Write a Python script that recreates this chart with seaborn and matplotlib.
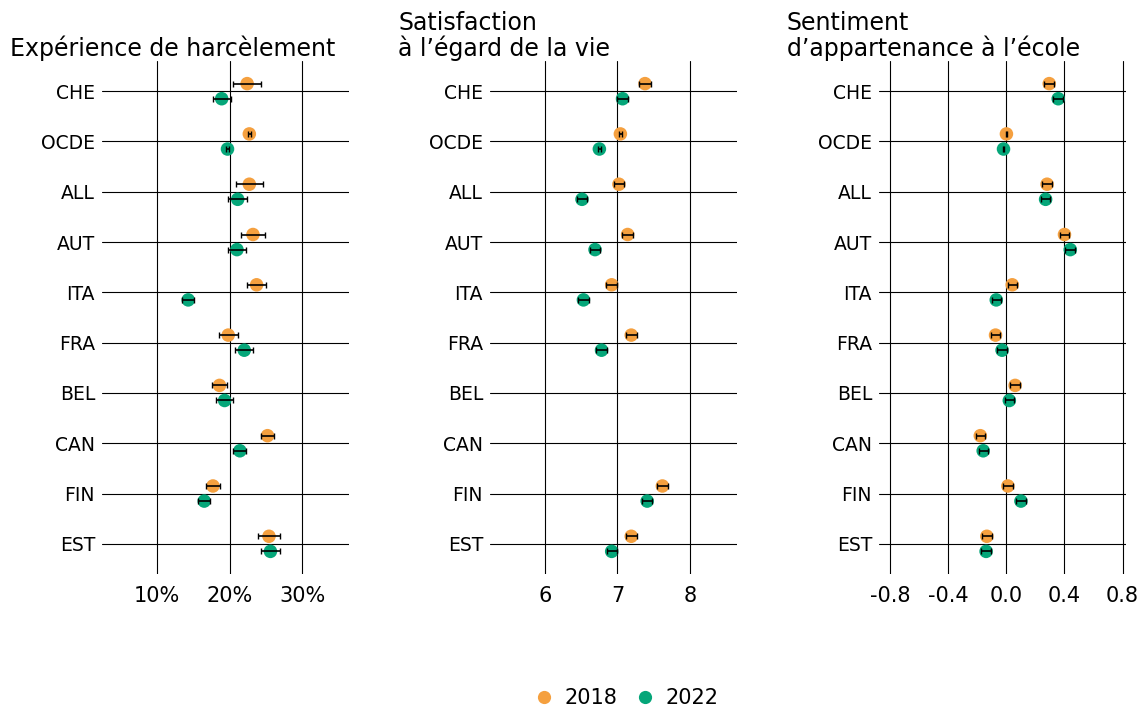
import numpy as np
import pandas as pd
import matplotlib
matplotlib.use("Agg")
import matplotlib.pyplot as plt
import seaborn as sns
from matplotlib.lines import Line2D

countries = ["CHE", "OCDE", "ALL", "AUT", "ITA", "FRA", "BEL", "CAN", "FIN", "EST"]
years = ["2018", "2022"]
titles = ["Expérience de harcèlement",
          "Satisfaction\nà l’égard de la vie",
          "Sentiment\nd’appartenance à l’école"]

# Panel 1: bullying (%)
bully_2018 = [22.4, 22.7, 22.7, 23.2, 23.7, 19.8, 18.6, 25.2, 17.7, 25.4]
bully_2018_err = [1.95, 0.2, 1.9, 1.6, 1.35, 1.3, 1.0, 0.9, 0.95, 1.45]
bully_2022 = [18.9, 19.7, 21.1, 21.0, 14.3, 22.0, 19.3, 21.4, 16.5, 25.6]
bully_2022_err = [1.25, 0.2, 1.3, 1.25, 0.85, 1.25, 1.15, 0.9, 0.85, 1.35]

# Panel 2: life satisfaction
life_2018 = [7.38, 7.04, 7.02, 7.14, 6.92, 7.19, np.nan, np.nan, 7.62, 7.19]
life_2018_err = [0.08, 0.02, 0.075, 0.08, 0.078, 0.076, np.nan, np.nan, 0.075, 0.075]
life_2022 = [7.07, 6.75, 6.51, 6.69, 6.53, 6.78, np.nan, np.nan, 7.41, 6.92]
life_2022_err = [0.07, 0.02, 0.07, 0.07, 0.07, 0.07, np.nan, np.nan, 0.07, 0.07]

# Panel 3: sense of belonging
belong_2018 = [0.295, 0.0, 0.28, 0.40, 0.04, -0.075, 0.06, -0.18, 0.01, -0.135]
belong_2018_err = [0.034, 0.006, 0.033, 0.034, 0.032, 0.032, 0.032, 0.032, 0.032, 0.034]
belong_2022 = [0.357, -0.02, 0.27, 0.44, -0.07, -0.03, 0.02, -0.16, 0.10, -0.14]
belong_2022_err = [0.033, 0.006, 0.032, 0.034, 0.032, 0.032, 0.032, 0.032, 0.032, 0.032]

xticks_list = [[10, 20, 30], [6, 7, 8], [-0.8, -0.4, 0.0, 0.4, 0.8]]
xticklabels_list = [["10%", "20%", "30%"], ["6", "7", "8"],
                    ["-0.8", "-0.4", "0.0", "0.4", "0.8"]]
xlims = [(2.45, 36.4), (5.24, 8.65), (-0.878, 0.824)]

palette = {"2018": "#F5A03F", "2022": "#05A679"}
offsets = {"2018": -0.15, "2022": 0.15}

sns.set_style("white")
plt.rcParams["font.family"] = ["DejaVu Sans"]
plt.rcParams["text.color"] = "black"
plt.rcParams["xtick.color"] = "black"
plt.rcParams["ytick.color"] = "black"
plt.rcParams["axes.labelcolor"] = "black"

panels = [
    (bully_2018, bully_2018_err, bully_2022, bully_2022_err),
    (life_2018, life_2018_err, life_2022, life_2022_err),
    (belong_2018, belong_2018_err, belong_2022, belong_2022_err),
]

fig = plt.figure(figsize=(11.46, 7.10), dpi=100)
lefts = [102 / 1146, 490 / 1146, 879 / 1146]
width = 247 / 1146
bottom = 1 - 574 / 710
height = (574 - 61) / 710

for i, (v18, e18, v22, e22) in enumerate(panels):
    ax = fig.add_axes([lefts[i], bottom, width, height])
    rows = []
    for yr, vals, errs in (("2018", v18, e18), ("2022", v22, e22)):
        for k, c in enumerate(countries):
            rows.append({"country": c, "year": yr, "value": vals[k],
                         "err": errs[k], "pos": k + offsets[yr]})
    df = pd.DataFrame(rows).dropna()
    sns.scatterplot(data=df, x="value", y="pos", hue="year", palette=palette,
                    s=95, linewidth=0, legend=False, ax=ax, zorder=3)
    ax.errorbar(df["value"], df["pos"], xerr=df["err"], fmt="none",
                ecolor="black", elinewidth=1.2, capsize=2.0, capthick=1.0,
                zorder=4)
    ax.set_yticks(range(len(countries)))
    ax.set_yticklabels(countries, fontsize=13.5)
    ax.set_ylim(len(countries) - 0.4, -0.6)
    ax.set_xlim(*xlims[i])
    ax.set_xticks(xticks_list[i])
    ax.set_xticklabels(xticklabels_list[i], fontsize=15)
    ax.set_xlabel("")
    ax.set_ylabel("")
    ax.grid(True, color="black", linewidth=0.8, zorder=0)
    ax.set_axisbelow(True)
    for sp in ax.spines.values():
        sp.set_visible(False)
    ax.tick_params(axis="x", length=6, width=0.8, color="black", pad=3)
    ax.tick_params(axis="y", length=0, pad=5)
    ax.text(-92 / 247, 1.0, titles[i], transform=ax.transAxes, ha="left",
            va="bottom", fontsize=17, linespacing=1.0)

handles = [Line2D([], [], marker="o", linestyle="none", markersize=9.5,
                  markerfacecolor=palette[y], markeredgewidth=0) for y in years]
fig.legend(handles, years, loc="center", bbox_to_anchor=(626 / 1146, 1 - 698 / 710),
           ncol=2, frameon=False, fontsize=15, handlelength=1.0,
           handletextpad=0.5, columnspacing=0.8)

fig.savefig("out.png", dpi=100)
